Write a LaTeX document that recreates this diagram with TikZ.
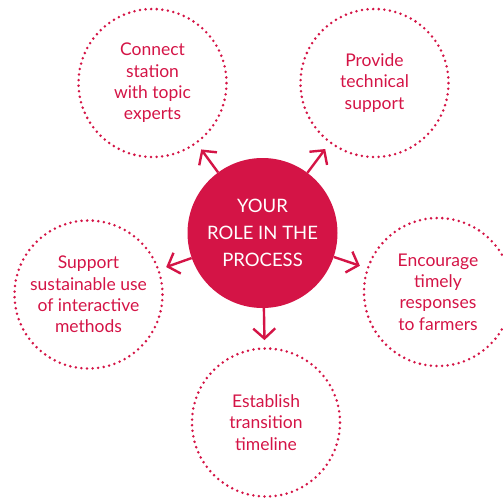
\documentclass[tikz,border=0pt]{standalone}
\usepackage{fontspec}
\setmainfont{Lato}
\usetikzlibrary{arrows.meta}
\definecolor{crim}{RGB}{212,20,70}
\begin{document}
\begin{tikzpicture}[x=1pt,y=-1pt,
  outer/.style={circle, draw=crim, line width=2.8pt, dash pattern=on 0pt off 5.6pt, line cap=round,
    minimum size=148pt, inner sep=0pt, text=crim, align=center, font=\fontsize{17.5}{21.3}\selectfont},
  hub/.style={circle, fill=crim, minimum size=150pt, inner sep=0pt, text=white, align=center,
    font=\fontsize{18.5}{27}\selectfont},
  arr/.style={draw=crim, line width=2.4pt, -{Straight Barb[length=10pt,width=22pt]}, shorten >=7pt}]
\useasboundingbox (0,0) rectangle (503,498);
\node[hub] (c) at (262.5,233) {YOUR\\ROLE IN THE\\PROCESS};
\node[outer] (tl) at (152.5,83) {Connect\\station\\with topic\\experts};
\node[outer] (tr) at (374.5,83) {Provide\\technical\\support};
\node[outer] (l) at (88.5,294.5) {Support\\sustainable use\\of interactive\\methods};
\node[outer] (r) at (438,292) {Encourage\\timely\\responses\\to farmers};
\node[outer] (b) at (266,422.5) {Establish\\transition\\timeline};
\foreach \t in {tl,tr,l,r,b} \draw[arr] (c) -- (\t);
\end{tikzpicture}
\end{document}
